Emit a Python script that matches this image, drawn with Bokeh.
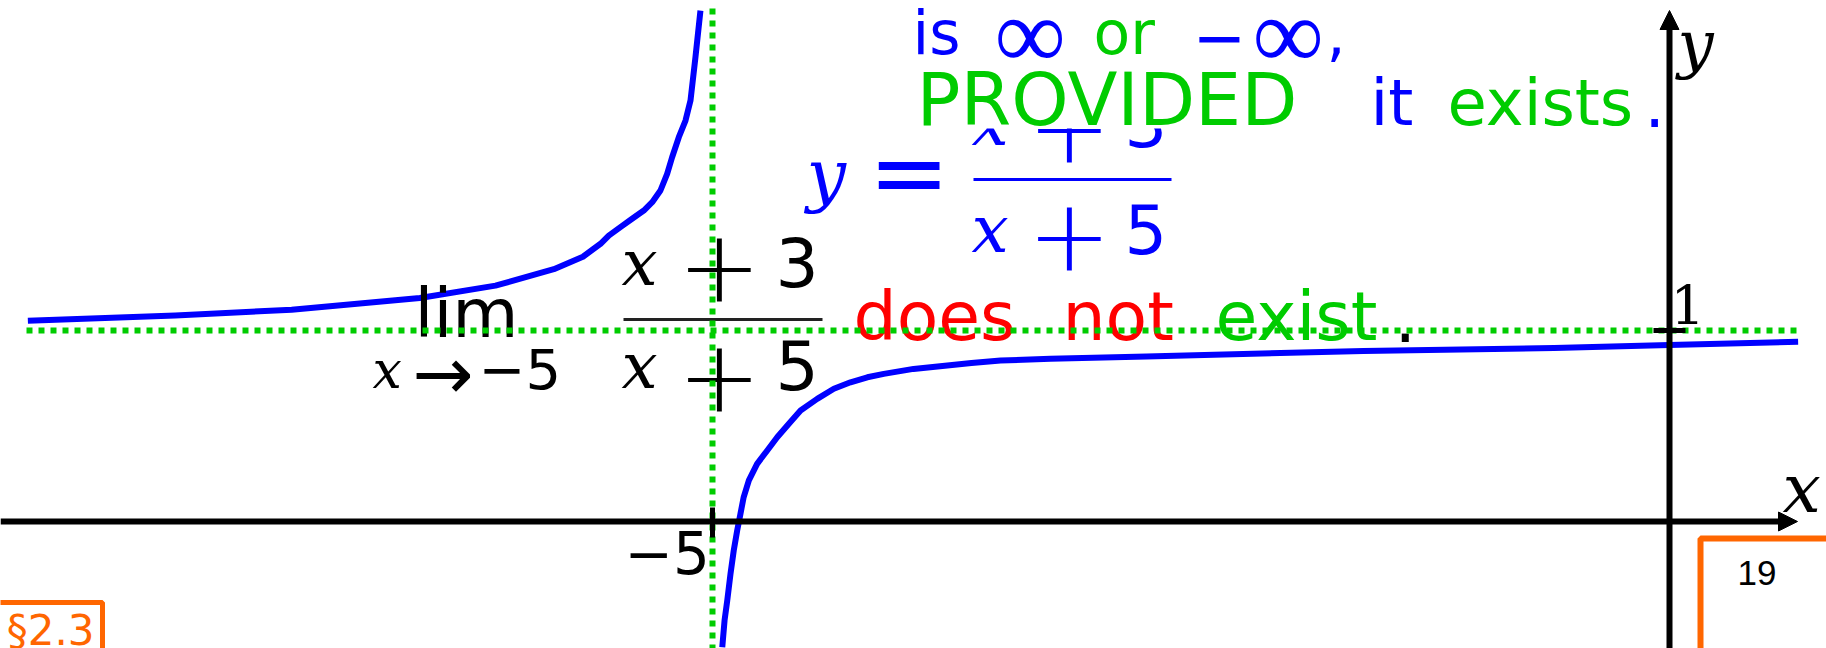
from bokeh.plotting import figure
from bokeh.models import Range1d, Arrow, NormalHead
from bokeh.core.properties import value
from bokeh.embed import file_html
from bokeh.resources import INLINE

# ---------------- data ----------------
# left branch of y = (x+3)/(x+5) as drawn on the slide
left_x = [-8.577, -7.807, -7.199, -6.529, -6.134, -5.829, -5.677, -5.585,
          -5.542, -5.481, -5.420, -5.359, -5.315, -5.272, -5.237, -5.211,
          -5.176, -5.141, -5.115, -5.089, -5.063]
left_y = [1.051, 1.079, 1.109, 1.170, 1.235, 1.321, 1.386, 1.454,
          1.497, 1.541, 1.585, 1.628, 1.672, 1.733, 1.820, 1.907,
          2.012, 2.099, 2.204, 2.431, 2.675]
# right branch
right_x = [-4.949, -4.937, -4.923, -4.906, -4.889, -4.871, -4.854, -4.837,
           -4.810, -4.767, -4.714, -4.662, -4.601, -4.540, -4.453, -4.366,
           -4.279, -4.191, -4.105, -3.950, -3.647, -3.495, -3.234, -2.733,
           -1.599, -0.603, 0.0, 0.672]
right_y = [-0.658, -0.518, -0.414, -0.274, -0.152, -0.047, 0.040, 0.128,
           0.215, 0.302, 0.372, 0.441, 0.512, 0.581, 0.642, 0.695,
           0.729, 0.755, 0.773, 0.799, 0.830, 0.843, 0.852, 0.864,
           0.893, 0.908, 0.924, 0.941]
asym_x = -5.0
asym_y = 1.0
x_ticks = [-5.0]
x_tick_labels = ["\u22125"]
y_ticks = [1.0]
y_tick_labels = ["1"]

# ---------------- page geometry ----------------
W, H = 1826, 648
OX, OY = 1669.0, 521.0      # page pixel of the origin
SX, SY = 191.4, 191.0       # pixels per unit


def X(px):
    return (px - OX) / SX


def Y(py):
    return (OY - py) / SY


BLUE = "#0000FF"
GREEN = "#00CC00"
RED = "#FF0000"
ORANGE = "#FF6600"
SANS = "DejaVu Sans"
SERIF = "DejaVu Serif"

p = figure(width=W, height=H, x_range=Range1d(X(0), X(W)),
           y_range=Range1d(Y(H), Y(0)), output_backend="svg",
           toolbar_location=None, x_axis_type=None, y_axis_type=None,
           min_border=0, background_fill_color="white",
           border_fill_color="white")
p.outline_line_color = None
p.grid.visible = False


def txt(px, base, s, size, color="black", font=SANS, style="normal",
        align="left", k=0.35):
    p.text(x=[X(px)], y=[Y(base - k * size)], text=[s], text_font=value(font),
           text_font_size=value(f"{size}px"), text_font_style=style,
           text_color=color, text_align=align, text_baseline="alphabetic")


# ---------------- curve ----------------
p.line(left_x, left_y, line_color=BLUE, line_width=6, line_join="round")
p.line(right_x, right_y, line_color=BLUE, line_width=6, line_join="round")

# ---------------- black limit formula ----------------
txt(414, 337, "lim", 68)
txt(372, 388, "x", 52, font=SERIF, style="italic")
txt(412, 399, "\u2192", 73)
txt(478, 388, "\u22125", 56)
# fraction
txt(621, 285, "x", 64, font=SERIF, style="italic")
txt(677, 299, "+", 100)
txt(775, 285, "3", 68)
p.line([X(623), X(822)], [Y(319), Y(319)], line_color="#222222", line_width=3)
txt(621, 388, "x", 64, font=SERIF, style="italic")
txt(677, 409, "+", 100)
txt(775, 388, "5", 68)

# red/green sentence
txt(853, 340, "does", 68, color=RED)
txt(1062, 340, "not", 68, color=RED)
txt(1215, 340, "exist", 68, color=GREEN)
txt(1394, 340, ".", 68)

# ---------------- blue formula ----------------
txt(806, 199, "y", 70, color=BLUE, font=SERIF, style="italic")
txt(868, 206, "=", 97, color=BLUE)
txt(971, 145, "x", 66, color=BLUE, font=SERIF, style="italic")
txt(1027, 160, "+", 100, color=BLUE)
txt(1124, 145, "3", 67, color=BLUE)
p.line([X(973), X(1171)], [Y(179), Y(179)], line_color=BLUE, line_width=3)
txt(971, 252, "x", 66, color=BLUE, font=SERIF, style="italic")
txt(1027, 268, "+", 100, color=BLUE)
txt(1124, 252, "5", 67, color=BLUE)

# white band of the text block above
p.quad(left=[X(905)], right=[X(1660)], top=[Y(0)], bottom=[Y(128)],
       fill_color="white", line_color=None)

txt(912, 53, "is", 60, color=BLUE)
txt(994, 64, "\u221e", 100, color=BLUE, font="Liberation Serif", k=0.3)
txt(1093, 53, "or", 60, color=GREEN)
txt(1192, 58, "\u2212", 64, color=BLUE)
txt(1252, 64, "\u221e", 100, color=BLUE, font="Liberation Serif", k=0.3)
txt(1326, 53, ",", 60, color=BLUE)

txt(916, 125, "PROVIDED", 73, color=GREEN)
txt(1370, 125, "it", 64, color=BLUE)
txt(1447, 125, "exists", 64, color=GREEN)
txt(1644, 125, ".", 64, color=BLUE)

# ---------------- asymptotes (green dotted) ----------------
p.line([X(26), X(1797)], [asym_y, asym_y], line_color=GREEN, line_width=6,
       line_dash="6 6")
p.line([asym_x, asym_x], [Y(8), Y(660)], line_color=GREEN, line_width=6,
       line_dash="6 6")

# ---------------- axes ----------------
p.add_layout(Arrow(end=NormalHead(size=19, fill_color="black", line_color="black",
                                  line_width=1),
                   x_start=X(0), y_start=0, x_end=X(1797), y_end=0,
                   line_color="black", line_width=6))
p.add_layout(Arrow(end=NormalHead(size=19, fill_color="black", line_color="black",
                                  line_width=1),
                   x_start=0, y_start=Y(660), x_end=0, y_end=Y(10),
                   line_color="black", line_width=6))

# ticks
for t in x_ticks:
    p.line([t, t], [Y(507), Y(537)], line_color="black", line_width=5)
for t in y_ticks:
    p.line([X(1653), X(1685)], [t, t], line_color="black", line_width=5)
for t, lab in zip(x_ticks, x_tick_labels):
    txt(OX + t * SX - 88, 572, lab, 58)
for t, lab in zip(y_ticks, y_tick_labels):
    txt(1670, OY - t * SY - 7, lab, 54, font=SERIF)

# axis names
txt(1782, 512, "x", 68, font=SERIF, style="italic")
txt(1677, 66, "y", 64, font=SERIF, style="italic")

# ---------------- slide decorations ----------------
p.line([X(-10), X(102), X(102)], [Y(602), Y(602), Y(660)], line_color=ORANGE,
       line_width=5)
txt(94, 645, "\u00a72.3", 42, color=ORANGE, align="right")
p.line([X(1700), X(1700), X(1840)], [Y(660), Y(538), Y(538)], line_color=ORANGE,
       line_width=6)
txt(1737, 583, "19", 35, font="Liberation Sans", k=0.3)

open("out.html", "w").write(file_html(p, INLINE))
